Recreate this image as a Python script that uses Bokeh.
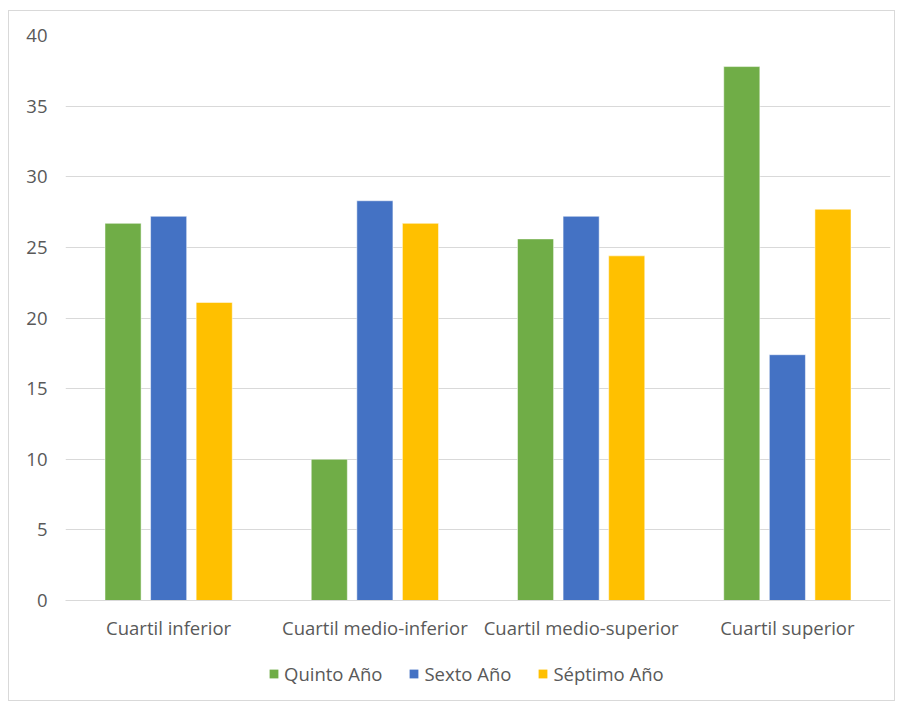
from bokeh.plotting import figure
from bokeh.models import ColumnDataSource, FactorRange, Range1d, SingleIntervalTicker, Legend, LegendItem, Column
from bokeh.transform import dodge
from bokeh.embed import file_html
from bokeh.resources import INLINE

categories = ["Cuartil inferior", "Cuartil medio-inferior", "Cuartil medio-superior", "Cuartil superior"]
series_names = ["Quinto Año", "Sexto Año", "Séptimo Año"]
quinto = [26.7, 10.0, 25.6, 37.8]
sexto = [27.2, 28.3, 27.2, 17.4]
septimo = [21.1, 26.7, 24.4, 27.7]
colors = ["#70AD47", "#4472C4", "#FFC000"]

FONT = "Open Sans"
TXT = "#595959"
FS = "18.5px"

source = ColumnDataSource(dict(cat=categories, quinto=quinto, sexto=sexto, septimo=septimo))
keys = ["quinto", "sexto", "septimo"]
offsets = [-0.221, 0.0, 0.221]

p = figure(x_range=FactorRange(*categories), y_range=Range1d(0, 40),
           width=885, height=640, output_backend="svg", toolbar_location=None,
           min_border_left=56, min_border_right=4, min_border_top=24, min_border_bottom=51)
p.outline_line_color = None
p.x_range.range_padding = 0

for key, off, c in zip(keys, offsets, colors):
    p.vbar(x=dodge("cat", off, range=p.x_range), top=key, width=0.175, source=source,
           fill_color=c, line_color="white", line_width=0.5)

p.yaxis.ticker = SingleIntervalTicker(interval=5)
p.ygrid.grid_line_color = "#d9d9d9"
p.xgrid.grid_line_color = None
p.yaxis.axis_line_color = None
p.yaxis.major_tick_line_color = None
p.yaxis.minor_tick_line_color = None
p.yaxis.major_label_text_font = FONT
p.yaxis.major_label_text_font_size = FS
p.yaxis.major_label_text_color = TXT
p.yaxis.major_label_standoff = 12

p.xaxis.axis_line_color = "#d9d9d9"
p.xaxis.major_tick_line_color = None
p.xaxis.minor_tick_line_color = None
p.xaxis.major_label_text_font = FONT
p.xaxis.major_label_text_font_size = FS
p.xaxis.major_label_text_color = TXT
p.xaxis.major_label_standoff = 8

# legend strip: same series drawn out of view, only the legend shows
lg = figure(width=885, height=49, output_backend="svg", toolbar_location=None,
            x_range=FactorRange(*categories), y_range=Range1d(100, 101),
            min_border_left=0, min_border_right=0, min_border_top=0, min_border_bottom=0)
lg.axis.visible = False
lg.grid.visible = False
lg.outline_line_color = None
leg_renderers = [lg.vbar(x=dodge("cat", off, range=lg.x_range), top=key, width=0.175, source=source,
                         fill_color=c, line_color=None)
                 for key, off, c in zip(keys, offsets, colors)]
legend = Legend(items=[LegendItem(label=n, renderers=[r]) for n, r in zip(series_names, leg_renderers)],
                orientation="horizontal", location=(203, 14),
                label_text_font=FONT, label_text_font_size=FS, label_text_color=TXT,
                glyph_width=11, glyph_height=11, spacing=26, label_standoff=5,
                border_line_color=None, background_fill_alpha=0, padding=0, margin=0)
lg.add_layout(legend)

layout = Column(children=[p, lg], spacing=0,
                styles={"border": "1px solid #d9d9d9", "margin-left": "8px", "margin-top": "10px"})

open("out.html", "w").write(file_html(layout, INLINE))
